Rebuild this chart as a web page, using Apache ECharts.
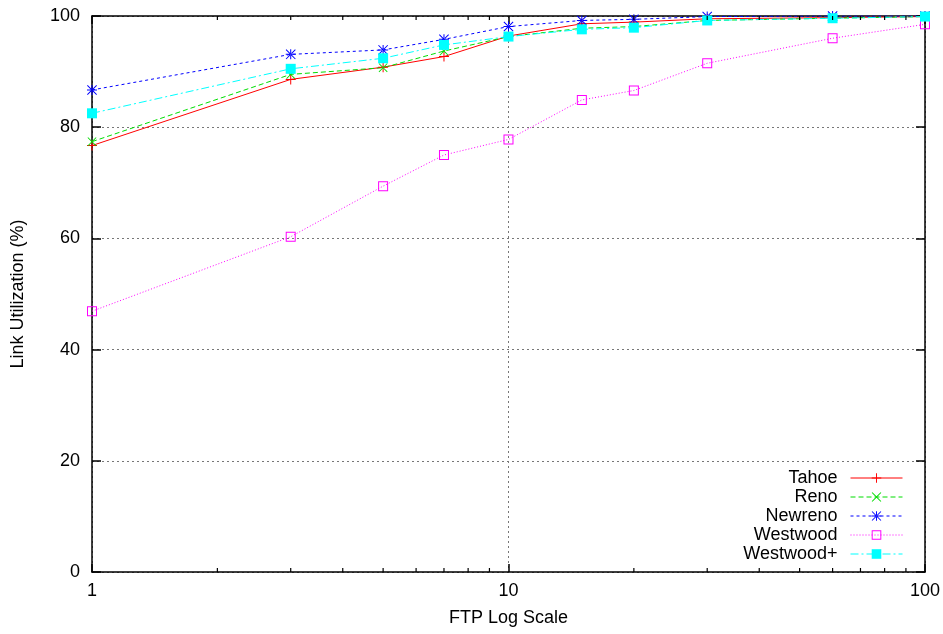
<!DOCTYPE html>
<html>
<head>
<meta charset="utf-8">
<script src="https://cdn.jsdelivr.net/npm/echarts@6/dist/echarts.min.js"></script>
<style>
  html, body { margin: 0; padding: 0; background: #fff; }
  #chart { width: 943px; height: 634px; }
</style>
</head>
<body>
<div id="chart"></div>
<script>
// FTP 连接数 (log)
var ftpCounts = [1, 3, 5, 7, 10, 15, 20, 30, 60, 100];
var tahoe = [76.7, 88.6, 90.8, 92.7, 96.4, 98.6, 98.9, 99.5, 99.7, 99.9];
var reno = [77.4, 89.5, 90.7, 93.7, 96.3, 97.8, 98.1, 99.2, 99.6, 99.9];
var newreno = [86.7, 93.1, 93.9, 95.8, 98.1, 99.2, 99.4, 99.9, 100, 100];
var westwood = [46.9, 60.3, 69.4, 75.0, 77.8, 84.9, 86.6, 91.5, 96.0, 98.5];
var westwoodPlus = [82.5, 90.5, 92.4, 94.8, 96.3, 97.6, 97.9, 99.2, 99.6, 99.9];
var seriesNames = ['Tahoe', 'Reno', 'Newreno', 'Westwood', 'Westwood+'];
var minorTicks = [2, 3, 4, 5, 6, 7, 8, 9, 20, 30, 40, 50, 60, 70, 80, 90];

var FONT = '"Liberation Sans", Arial, sans-serif';

var plusPath = 'path://M9,0h2v9h9v2h-9v9h-2v-9h-9v-2h9z';
var crossPath = 'path://M0,1.4L1.4,0L10,8.6L18.6,0L20,1.4L11.4,10L20,18.6L18.6,20L10,11.4L1.4,20L0,18.6L8.6,10Z';
var starPath = 'path://M9,0h2v9h9v2h-9v9h-2v-9h-9v-2h9z M0,1.4L1.4,0L20,18.6L18.6,20Z M20,1.4L18.6,0L0,18.6L1.4,20Z';
var boxPath = 'path://M0,0H20V20H0Z M2,2V18H18V2Z';

function pairs(ys) {
    return ftpCounts.map(function (x, i) { return [x, ys[i]]; });
}

function lineSeries(name, ys, color, type, symbol, size) {
    return {
        name: name,
        type: 'line',
        data: pairs(ys),
        symbol: symbol,
        symbolSize: size,
        showAllSymbol: true,
        lineStyle: {color: color, width: 1, type: type},
        itemStyle: {color: color},
        emphasis: {disabled: true},
        animation: false
    };
}

var myChart = echarts.init(document.getElementById('chart'));

// 每个图例单独一个组件，右对齐
var legends = seriesNames.map(function (n, i) {
    return {
        data: [n],
        orient: 'vertical',
        align: 'right',
        right: 40,
        top: 469 + i * 19,
        itemWidth: 52,
        itemHeight: 12,
        padding: 0,
        selectedMode: false,
        lineStyle: {width: 1},
        textStyle: {fontFamily: FONT, fontSize: 18, color: '#000', padding: [0, 8, 0, 0]}
    };
});

var axisLine = {show: true, onZero: false, lineStyle: {color: '#000', width: 1.5}};

var option = {
    backgroundColor: '#fff',
    animation: false,
    grid: {left: 92, right: 17, top: 16, bottom: 62},
    legend: legends,
    xAxis: [
        {
            type: 'log',
            logBase: 10,
            min: 1,
            max: 100,
            name: 'FTP Log Scale',
            nameLocation: 'middle',
            nameGap: 37,
            nameTextStyle: {fontFamily: FONT, fontSize: 18, color: '#000'},
            axisLine: axisLine,
            axisTick: {inside: true, length: 8, lineStyle: {color: '#000', width: 1.5}},
            axisLabel: {fontFamily: FONT, fontSize: 18, color: '#000', margin: 10},
            splitLine: {show: true, lineStyle: {color: '#777', type: [2, 3], width: 1}},
            minorTick: {show: false},
            minorSplitLine: {show: false}
        },
        {
            type: 'log',
            logBase: 10,
            min: 1,
            max: 100,
            position: 'top',
            axisLine: axisLine,
            axisTick: {inside: true, length: 8, lineStyle: {color: '#000', width: 1.5}},
            axisLabel: {show: false},
            splitLine: {show: false}
        }
    ],
    yAxis: [
        {
            type: 'value',
            min: 0,
            max: 100,
            interval: 20,
            name: 'Link Utilization (%)',
            nameLocation: 'middle',
            nameGap: 65,
            nameTextStyle: {fontFamily: FONT, fontSize: 18, color: '#000'},
            axisLine: axisLine,
            axisTick: {inside: true, length: 9, lineStyle: {color: '#000', width: 1.5}},
            axisLabel: {fontFamily: FONT, fontSize: 18, color: '#000', margin: 12},
            splitLine: {show: true, lineStyle: {color: '#777', type: [2, 3], width: 1}}
        },
        {
            type: 'value',
            min: 0,
            max: 100,
            interval: 20,
            position: 'right',
            axisLine: axisLine,
            axisTick: {inside: true, length: 9, lineStyle: {color: '#000', width: 1.5}},
            axisLabel: {show: false},
            splitLine: {show: false}
        }
    ],
    series: [
        lineSeries('Tahoe', tahoe, '#ff0000', 'solid', plusPath, 10),
        lineSeries('Reno', reno, '#00dd00', [5, 3], crossPath, 9),
        lineSeries('Newreno', newreno, '#0000ff', [3, 3], starPath, 10),
        lineSeries('Westwood', westwood, '#ff00ff', [1, 2], boxPath, 10),
        lineSeries('Westwood+', westwoodPlus, '#00ffff', [8, 3, 2, 3], 'rect', 10),
        {
            // 对数轴的次刻度 (2..9, 20..90)
            type: 'custom',
            silent: true,
            clip: false,
            z: 5,
            data: minorTicks.map(function (v) { return [v, 0]; }),
            renderItem: function (params, api) {
                var bottom = api.coord([api.value(0), 0]);
                var top = api.coord([api.value(0), 100]);
                var style = {stroke: '#000', lineWidth: 1.2};
                return {
                    type: 'group',
                    children: [
                        {type: 'line', shape: {x1: bottom[0], y1: bottom[1], x2: bottom[0], y2: bottom[1] - 4}, style: style},
                        {type: 'line', shape: {x1: top[0], y1: top[1], x2: top[0], y2: top[1] + 4}, style: style}
                    ]
                };
            }
        }
    ]
};
myChart.setOption(option);
</script>
</body>
</html>
